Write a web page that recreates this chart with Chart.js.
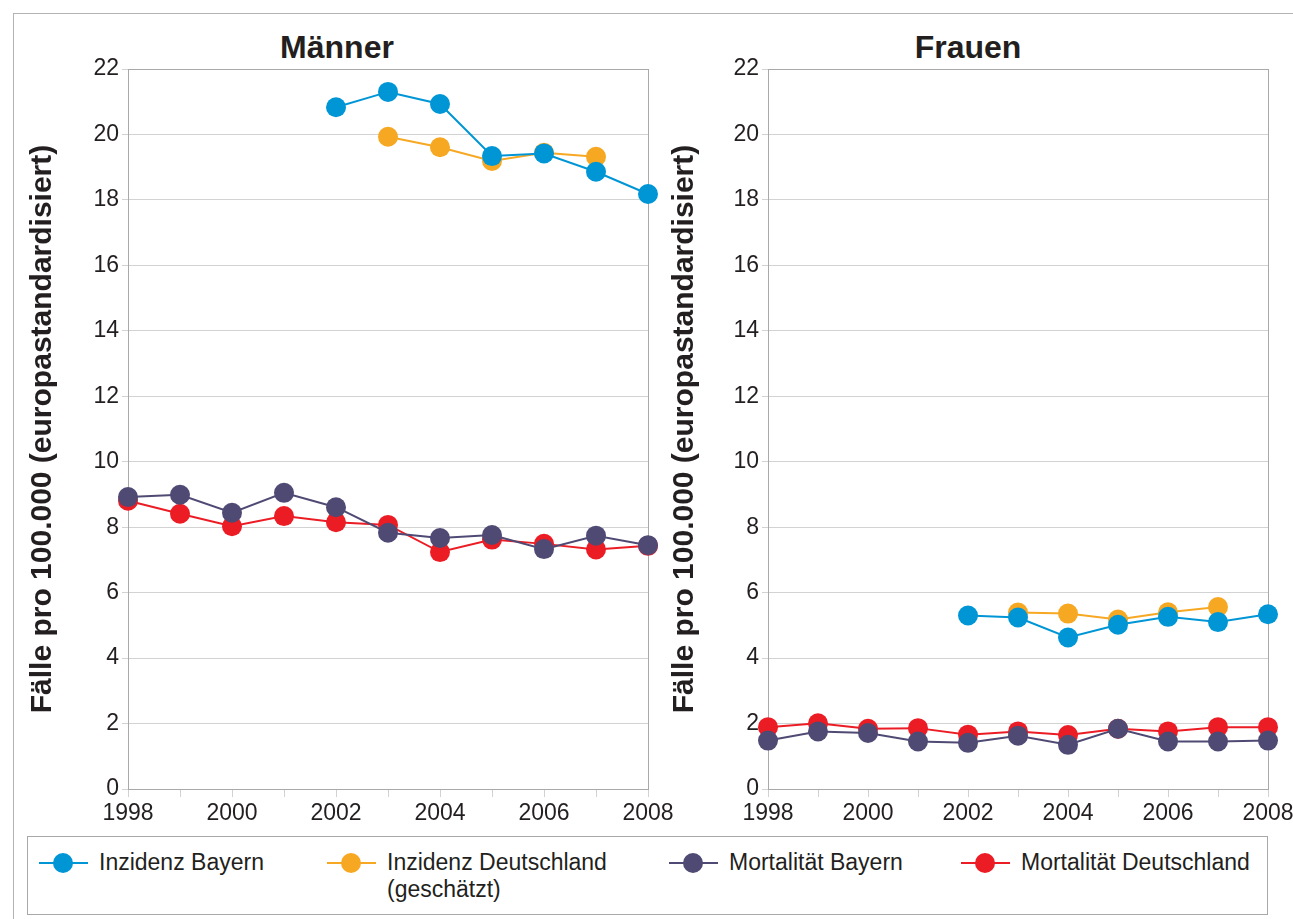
<!DOCTYPE html>
<html>
<head>
<meta charset="utf-8">
<script src="https://cdn.jsdelivr.net/npm/chart.js@4"></script>
<style>
  body {
    margin: 0;
    width: 1293px;
    height: 919px;
    overflow: hidden;
    position: relative;
    background: #fff;
    font-family: "Liberation Sans", Arial, sans-serif;
    color: #231f20;
  }
  .frame-top { position: absolute; left: 13px; top: 13px; width: 1300px; height: 1px; background: #b3b3b3; }
  .frame-left { position: absolute; left: 13px; top: 13px; width: 1px; height: 920px; background: #b3b3b3; }
  .title {
    position: absolute; top: 28px; width: 300px; margin-left: -150px;
    text-align: center; font-weight: bold; font-size: 32px; line-height: 38px;
  }
  canvas { position: absolute; top: 0; }
  #legend {
    position: absolute; left: 27px; top: 836px; width: 1241px; height: 79px;
    border: 1px solid #a8a8a8; box-sizing: border-box;
  }
  .item { position: absolute; top: 0; }
  .mk { position: absolute; top: 25px; width: 49px; height: 2px; }
  .mk::after {
    content: ""; position: absolute; left: 14px; top: -9px;
    width: 20px; height: 20px; border-radius: 50%; background: inherit;
  }
  .lbl {
    position: absolute; left: 60px; top: 12px; white-space: nowrap;
    font-size: 23px; line-height: 27px;
  }
</style>
</head>
<body>
<div class="frame-top"></div>
<div class="frame-left"></div>
<div class="title" style="left:337px">Männer</div>
<div class="title" style="left:968px">Frauen</div>
<canvas id="maenner" width="700" height="836" style="left:0"></canvas>
<canvas id="frauen" width="700" height="836" style="left:660px"></canvas>
<div id="legend"></div>

<script>
// ─── Data ─────────────────────────────────────────────────────────────────────

const years = [1998, 1999, 2000, 2001, 2002, 2003, 2004, 2005, 2006, 2007, 2008];
const yTicks = [0, 2, 4, 6, 8, 10, 12, 14, 16, 18, 20, 22];

const seriesNames = [
  "Inzidenz Bayern",
  "Inzidenz Deutschland\n(geschätzt)",
  "Mortalität Bayern",
  "Mortalität Deutschland",
];
const seriesColors = ["#0096d6", "#f7a823", "#4f4a74", "#ec1c24"];

// Männer (null = no value for that year)
const mInzBayern = [null, null, null, null, 20.83, 21.3, 20.93, 19.34, 19.42, 18.86, 18.18];
const mInzDeutschland = [null, null, null, null, null, 19.93, 19.61, 19.19, 19.44, 19.32, null];
const mMortBayern = [8.92, 8.99, 8.44, 9.05, 8.61, 7.83, 7.67, 7.76, 7.33, 7.74, 7.45];
const mMortDeutschland = [8.81, 8.41, 8.03, 8.34, 8.15, 8.07, 7.24, 7.62, 7.49, 7.32, 7.43];

// Frauen
const fInzBayern = [null, null, null, null, 5.3, 5.24, 4.63, 5.02, 5.26, 5.1, 5.34];
const fInzDeutschland = [null, null, null, null, null, 5.39, 5.36, 5.18, 5.4, 5.56, null];
const fMortBayern = [1.48, 1.76, 1.71, 1.45, 1.41, 1.63, 1.35, 1.84, 1.45, 1.45, 1.48];
const fMortDeutschland = [1.89, 2.01, 1.84, 1.86, 1.66, 1.76, 1.65, 1.84, 1.76, 1.89, 1.89];

// ─── Helpers ──────────────────────────────────────────────────────────────────

const FONT = '"Liberation Sans", Arial, sans-serif';
const TEXT = "#231f20";
const GRID = "#d2d2d2";
const BORDER = "#a9a9a9";

// plot area is boxed on all four sides, under the points
const plotFrame = {
  id: "plotFrame",
  beforeDatasetsDraw(chart) {
    const { ctx, chartArea: a } = chart;
    ctx.save();
    ctx.strokeStyle = BORDER;
    ctx.lineWidth = 1;
    ctx.strokeRect(Math.round(a.left) + 0.5, Math.round(a.top) + 0.5,
      Math.round(a.right - a.left), Math.round(a.bottom - a.top));
    ctx.restore();
  },
};

function toPoints(values) {
  return years
    .map((yr, i) => ({ x: yr, y: values[i] }))
    .filter((p) => p.y !== null);
}

function makeDataset(i, values) {
  return {
    label: seriesNames[i],
    data: toPoints(values),
    borderColor: seriesColors[i],
    backgroundColor: seriesColors[i],
    borderWidth: 2,
    pointRadius: 10,
    pointBorderWidth: 0,
    pointHoverRadius: 10,
    tension: 0,
    clip: false,
  };
}

function renderPanel(id, series, pad, yWidth, titlePad) {
  const canvas = document.getElementById(id);
  return new Chart(canvas, {
    type: "line",
    data: { datasets: series.map((vals, i) => makeDataset(i, vals)) },
    plugins: [plotFrame],
    options: {
      responsive: false,
      animation: false,
      layout: { padding: pad },
      plugins: { legend: { display: false }, tooltip: { enabled: false } },
      scales: {
        x: {
          type: "linear",
          min: years[0],
          max: years[years.length - 1],
          afterBuildTicks: (s) => { s.ticks = years.map((v) => ({ value: v })); },
          afterFit: (s) => { s.height = 47; },
          ticks: {
            autoSkip: false,
            maxRotation: 0,
            padding: 3,
            color: TEXT,
            font: { family: FONT, size: 23 },
            callback: (v) => (v % 2 === 0 ? String(v) : ""),
          },
          grid: { drawOnChartArea: false, tickLength: 8, color: GRID },
          border: { display: false },
        },
        y: {
          min: 0,
          max: 22,
          afterBuildTicks: (s) => { s.ticks = yTicks.map((v) => ({ value: v })); },
          afterFit: (s) => { s.width = yWidth; },
          ticks: {
            padding: 3,
            color: TEXT,
            font: { family: FONT, size: 23 },
          },
          grid: { color: GRID, tickLength: 6 },
          border: { display: false },
          title: {
            display: true,
            text: "Fälle pro 100.000 (europastandardisiert)",
            color: TEXT,
            font: { family: FONT, size: 30, weight: "bold" },
            padding: { top: titlePad, bottom: 0 },
          },
        },
      },
    },
  });
}

// ─── Panels ───────────────────────────────────────────────────────────────────

renderPanel("maenner",
  [mInzBayern, mInzDeutschland, mMortBayern, mMortDeutschland],
  { left: 13, right: 52, top: 69, bottom: 0 }, 115, 12);

renderPanel("frauen",
  [fInzBayern, fInzDeutschland, fMortBayern, fMortDeutschland],
  { left: 4, right: 92, top: 69, bottom: 0 }, 104, 3);

// ─── Legend ───────────────────────────────────────────────────────────────────

const legendLeft = [11, 299, 641, 933];
const legend = document.getElementById("legend");
seriesNames.forEach((name, i) => {
  const item = document.createElement("div");
  item.className = "item";
  item.style.left = legendLeft[i] + "px";
  const mk = document.createElement("span");
  mk.className = "mk";
  mk.style.background = seriesColors[i];
  const lbl = document.createElement("span");
  lbl.className = "lbl";
  lbl.innerHTML = name.replace("\n", "<br>");
  item.appendChild(mk);
  item.appendChild(lbl);
  legend.appendChild(item);
});
</script>
</body>
</html>
